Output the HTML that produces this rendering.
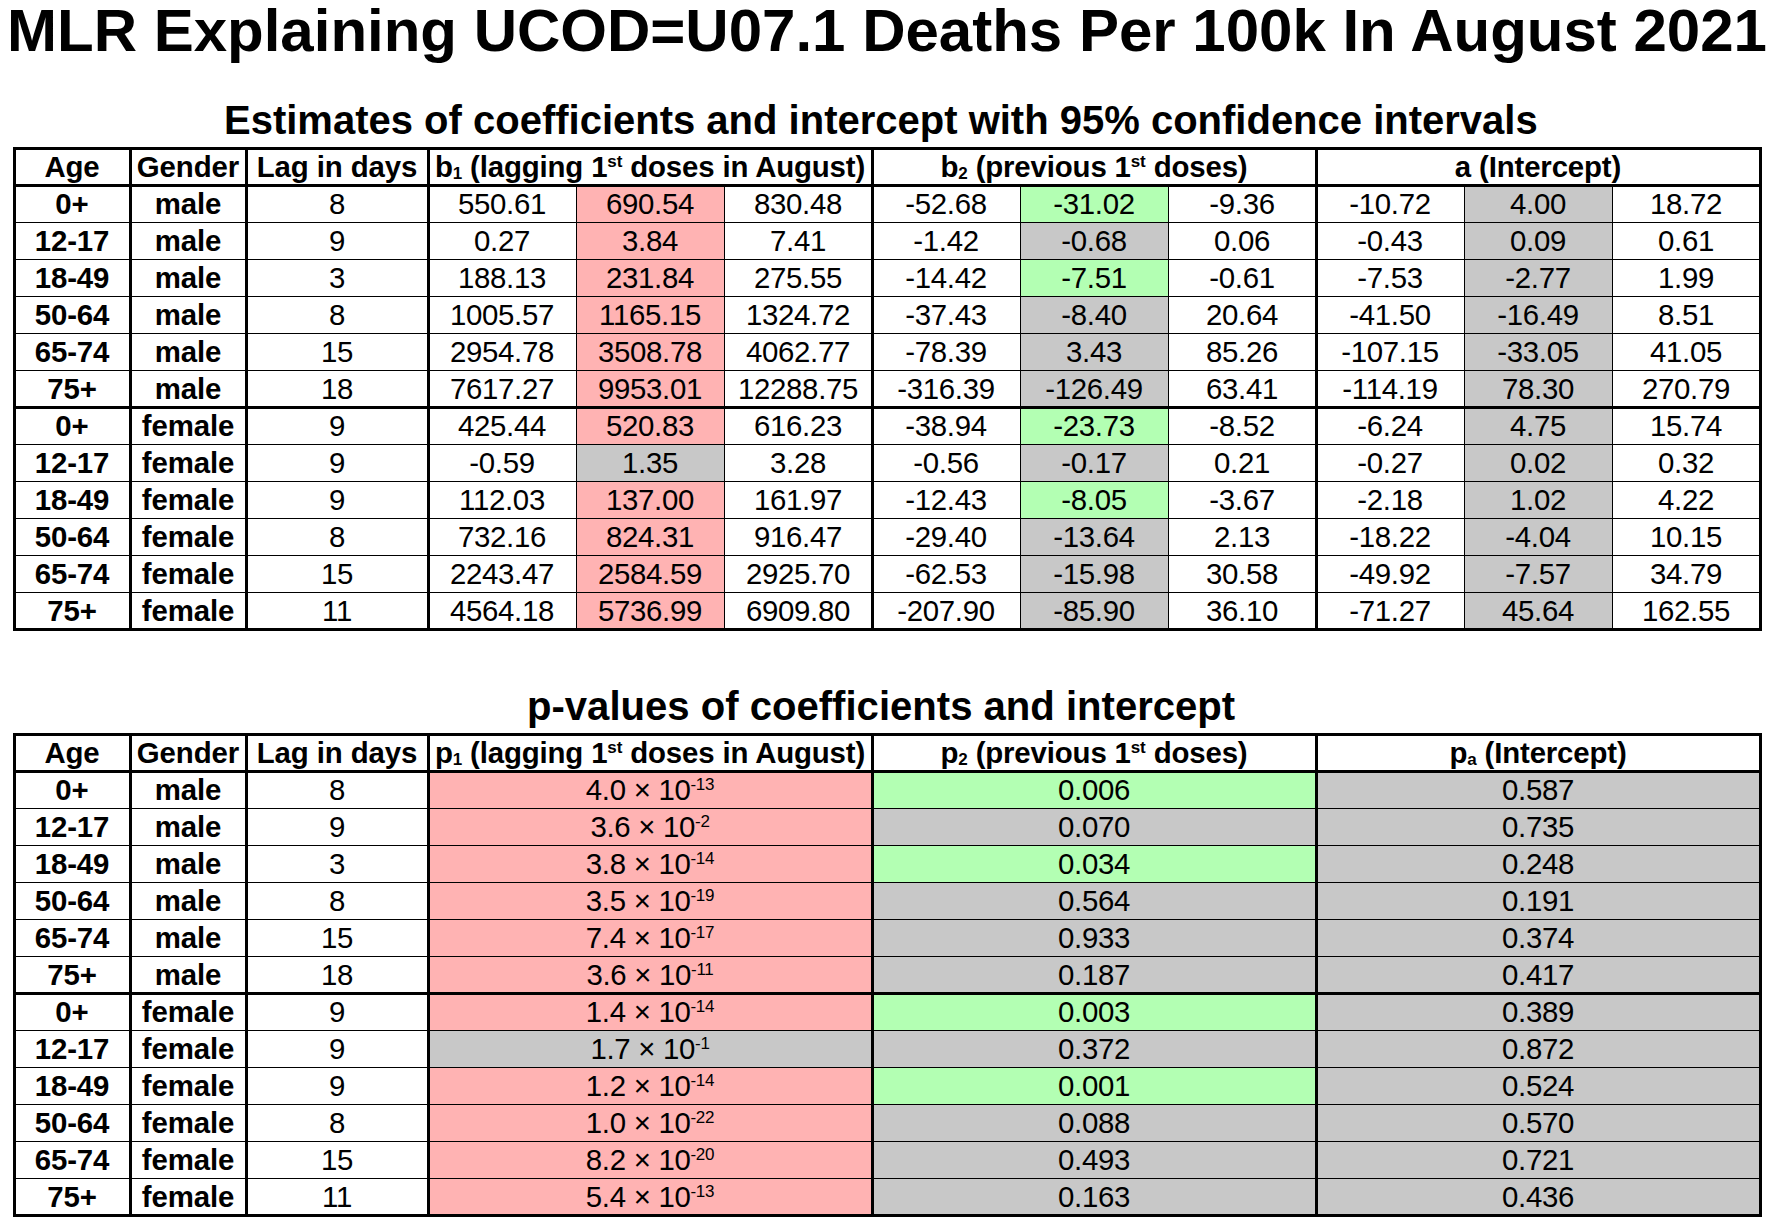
<!DOCTYPE html><html><head><meta charset="utf-8"><style>
html,body{margin:0;padding:0;background:#fff}
body{width:1772px;height:1227px;position:relative;overflow:hidden;font-family:"Liberation Sans",sans-serif;color:#000}
.r{position:absolute}
.t{position:absolute;white-space:nowrap;font-weight:bold}
.h,.d{position:absolute;height:37px;line-height:37px;text-align:center;white-space:nowrap;font-size:29.4px}
.h{font-weight:bold;letter-spacing:-0.1px}
.h.ls0{letter-spacing:-0.15px}
.d{letter-spacing:-0.3px}
.sb{font-size:17px;line-height:0;position:relative;top:2px}
.ss{font-size:17px;line-height:0;position:relative;top:-10px}
.sp{font-size:17px;line-height:0;position:relative;top:-10px}
</style></head><body><div class="t" style="left:7px;top:1px;font-size:60px;line-height:60px">MLR Explaining UCOD=U07.1 Deaths Per 100k In August 2021</div><div class="t" style="left:224px;top:100px;font-size:40px;line-height:40px">Estimates of coefficients and intercept with 95% confidence intervals</div><div class="t" style="left:527px;top:686px;font-size:40.1px;line-height:40px">p-values of coefficients and intercept</div>
<div class="r" style="left:577px;top:186px;width:147px;height:36px;background:#ffb3b3"></div>
<div class="r" style="left:1021px;top:186px;width:147px;height:36px;background:#b3ffb3"></div>
<div class="r" style="left:1465px;top:186px;width:147px;height:36px;background:#c8c8c8"></div>
<div class="r" style="left:577px;top:223px;width:147px;height:36px;background:#ffb3b3"></div>
<div class="r" style="left:1021px;top:223px;width:147px;height:36px;background:#c8c8c8"></div>
<div class="r" style="left:1465px;top:223px;width:147px;height:36px;background:#c8c8c8"></div>
<div class="r" style="left:577px;top:260px;width:147px;height:36px;background:#ffb3b3"></div>
<div class="r" style="left:1021px;top:260px;width:147px;height:36px;background:#b3ffb3"></div>
<div class="r" style="left:1465px;top:260px;width:147px;height:36px;background:#c8c8c8"></div>
<div class="r" style="left:577px;top:297px;width:147px;height:36px;background:#ffb3b3"></div>
<div class="r" style="left:1021px;top:297px;width:147px;height:36px;background:#c8c8c8"></div>
<div class="r" style="left:1465px;top:297px;width:147px;height:36px;background:#c8c8c8"></div>
<div class="r" style="left:577px;top:334px;width:147px;height:36px;background:#ffb3b3"></div>
<div class="r" style="left:1021px;top:334px;width:147px;height:36px;background:#c8c8c8"></div>
<div class="r" style="left:1465px;top:334px;width:147px;height:36px;background:#c8c8c8"></div>
<div class="r" style="left:577px;top:371px;width:147px;height:36px;background:#ffb3b3"></div>
<div class="r" style="left:1021px;top:371px;width:147px;height:36px;background:#c8c8c8"></div>
<div class="r" style="left:1465px;top:371px;width:147px;height:36px;background:#c8c8c8"></div>
<div class="r" style="left:577px;top:408px;width:147px;height:36px;background:#ffb3b3"></div>
<div class="r" style="left:1021px;top:408px;width:147px;height:36px;background:#b3ffb3"></div>
<div class="r" style="left:1465px;top:408px;width:147px;height:36px;background:#c8c8c8"></div>
<div class="r" style="left:577px;top:445px;width:147px;height:36px;background:#c8c8c8"></div>
<div class="r" style="left:1021px;top:445px;width:147px;height:36px;background:#c8c8c8"></div>
<div class="r" style="left:1465px;top:445px;width:147px;height:36px;background:#c8c8c8"></div>
<div class="r" style="left:577px;top:482px;width:147px;height:36px;background:#ffb3b3"></div>
<div class="r" style="left:1021px;top:482px;width:147px;height:36px;background:#b3ffb3"></div>
<div class="r" style="left:1465px;top:482px;width:147px;height:36px;background:#c8c8c8"></div>
<div class="r" style="left:577px;top:519px;width:147px;height:36px;background:#ffb3b3"></div>
<div class="r" style="left:1021px;top:519px;width:147px;height:36px;background:#c8c8c8"></div>
<div class="r" style="left:1465px;top:519px;width:147px;height:36px;background:#c8c8c8"></div>
<div class="r" style="left:577px;top:556px;width:147px;height:36px;background:#ffb3b3"></div>
<div class="r" style="left:1021px;top:556px;width:147px;height:36px;background:#c8c8c8"></div>
<div class="r" style="left:1465px;top:556px;width:147px;height:36px;background:#c8c8c8"></div>
<div class="r" style="left:577px;top:593px;width:147px;height:36px;background:#ffb3b3"></div>
<div class="r" style="left:1021px;top:593px;width:147px;height:36px;background:#c8c8c8"></div>
<div class="r" style="left:1465px;top:593px;width:147px;height:36px;background:#c8c8c8"></div>
<div class="r" style="left:13px;top:147px;width:1749px;height:3px;background:#000"></div>
<div class="r" style="left:13px;top:184px;width:1749px;height:3px;background:#000"></div>
<div class="r" style="left:13px;top:222px;width:1749px;height:1px;background:#000"></div>
<div class="r" style="left:13px;top:259px;width:1749px;height:1px;background:#000"></div>
<div class="r" style="left:13px;top:296px;width:1749px;height:1px;background:#000"></div>
<div class="r" style="left:13px;top:333px;width:1749px;height:1px;background:#000"></div>
<div class="r" style="left:13px;top:370px;width:1749px;height:1px;background:#000"></div>
<div class="r" style="left:13px;top:406px;width:1749px;height:3px;background:#000"></div>
<div class="r" style="left:13px;top:444px;width:1749px;height:1px;background:#000"></div>
<div class="r" style="left:13px;top:481px;width:1749px;height:1px;background:#000"></div>
<div class="r" style="left:13px;top:518px;width:1749px;height:1px;background:#000"></div>
<div class="r" style="left:13px;top:555px;width:1749px;height:1px;background:#000"></div>
<div class="r" style="left:13px;top:592px;width:1749px;height:1px;background:#000"></div>
<div class="r" style="left:13px;top:628px;width:1749px;height:3px;background:#000"></div>
<div class="r" style="left:13px;top:147px;width:3px;height:484px;background:#000"></div>
<div class="r" style="left:129px;top:147px;width:3px;height:484px;background:#000"></div>
<div class="r" style="left:245px;top:147px;width:3px;height:484px;background:#000"></div>
<div class="r" style="left:427px;top:147px;width:3px;height:484px;background:#000"></div>
<div class="r" style="left:576px;top:184px;width:1px;height:447px;background:#000"></div>
<div class="r" style="left:724px;top:184px;width:1px;height:447px;background:#000"></div>
<div class="r" style="left:871px;top:147px;width:3px;height:484px;background:#000"></div>
<div class="r" style="left:1020px;top:184px;width:1px;height:447px;background:#000"></div>
<div class="r" style="left:1168px;top:184px;width:1px;height:447px;background:#000"></div>
<div class="r" style="left:1315px;top:147px;width:3px;height:484px;background:#000"></div>
<div class="r" style="left:1464px;top:184px;width:1px;height:447px;background:#000"></div>
<div class="r" style="left:1612px;top:184px;width:1px;height:447px;background:#000"></div>
<div class="r" style="left:1759px;top:147px;width:3px;height:484px;background:#000"></div>
<div class="h" style="left:14.0px;top:147.5px;width:116.0px">Age</div>
<div class="h" style="left:130.0px;top:147.5px;width:116.0px">Gender</div>
<div class="h" style="left:246.0px;top:147.5px;width:182.0px">Lag in days</div>
<div class="h ls0" style="left:428.0px;top:147.5px;width:444.0px">b<span class="sb">1</span> (lagging 1<span class="ss">st</span> doses in August)</div>
<div class="h ls0" style="left:872.0px;top:147.5px;width:444.0px">b<span class="sb">2</span> (previous 1<span class="ss">st</span> doses)</div>
<div class="h ls0" style="left:1316.0px;top:147.5px;width:444.0px">a (Intercept)</div>
<div class="h" style="left:14.0px;top:184.5px;width:116.0px">0+</div>
<div class="h" style="left:130.0px;top:184.5px;width:116.0px">male</div>
<div class="d" style="left:246.0px;top:184.5px;width:182.0px">8</div>
<div class="d" style="left:428.0px;top:184.5px;width:148.0px">550.61</div>
<div class="d" style="left:576.0px;top:184.5px;width:148.0px">690.54</div>
<div class="d" style="left:724.0px;top:184.5px;width:148.0px">830.48</div>
<div class="d" style="left:872.0px;top:184.5px;width:148.0px">-52.68</div>
<div class="d" style="left:1020.0px;top:184.5px;width:148.0px">-31.02</div>
<div class="d" style="left:1168.0px;top:184.5px;width:148.0px">-9.36</div>
<div class="d" style="left:1316.0px;top:184.5px;width:148.0px">-10.72</div>
<div class="d" style="left:1464.0px;top:184.5px;width:148.0px">4.00</div>
<div class="d" style="left:1612.0px;top:184.5px;width:148.0px">18.72</div>
<div class="h" style="left:14.0px;top:221.5px;width:116.0px">12-17</div>
<div class="h" style="left:130.0px;top:221.5px;width:116.0px">male</div>
<div class="d" style="left:246.0px;top:221.5px;width:182.0px">9</div>
<div class="d" style="left:428.0px;top:221.5px;width:148.0px">0.27</div>
<div class="d" style="left:576.0px;top:221.5px;width:148.0px">3.84</div>
<div class="d" style="left:724.0px;top:221.5px;width:148.0px">7.41</div>
<div class="d" style="left:872.0px;top:221.5px;width:148.0px">-1.42</div>
<div class="d" style="left:1020.0px;top:221.5px;width:148.0px">-0.68</div>
<div class="d" style="left:1168.0px;top:221.5px;width:148.0px">0.06</div>
<div class="d" style="left:1316.0px;top:221.5px;width:148.0px">-0.43</div>
<div class="d" style="left:1464.0px;top:221.5px;width:148.0px">0.09</div>
<div class="d" style="left:1612.0px;top:221.5px;width:148.0px">0.61</div>
<div class="h" style="left:14.0px;top:258.5px;width:116.0px">18-49</div>
<div class="h" style="left:130.0px;top:258.5px;width:116.0px">male</div>
<div class="d" style="left:246.0px;top:258.5px;width:182.0px">3</div>
<div class="d" style="left:428.0px;top:258.5px;width:148.0px">188.13</div>
<div class="d" style="left:576.0px;top:258.5px;width:148.0px">231.84</div>
<div class="d" style="left:724.0px;top:258.5px;width:148.0px">275.55</div>
<div class="d" style="left:872.0px;top:258.5px;width:148.0px">-14.42</div>
<div class="d" style="left:1020.0px;top:258.5px;width:148.0px">-7.51</div>
<div class="d" style="left:1168.0px;top:258.5px;width:148.0px">-0.61</div>
<div class="d" style="left:1316.0px;top:258.5px;width:148.0px">-7.53</div>
<div class="d" style="left:1464.0px;top:258.5px;width:148.0px">-2.77</div>
<div class="d" style="left:1612.0px;top:258.5px;width:148.0px">1.99</div>
<div class="h" style="left:14.0px;top:295.5px;width:116.0px">50-64</div>
<div class="h" style="left:130.0px;top:295.5px;width:116.0px">male</div>
<div class="d" style="left:246.0px;top:295.5px;width:182.0px">8</div>
<div class="d" style="left:428.0px;top:295.5px;width:148.0px">1005.57</div>
<div class="d" style="left:576.0px;top:295.5px;width:148.0px">1165.15</div>
<div class="d" style="left:724.0px;top:295.5px;width:148.0px">1324.72</div>
<div class="d" style="left:872.0px;top:295.5px;width:148.0px">-37.43</div>
<div class="d" style="left:1020.0px;top:295.5px;width:148.0px">-8.40</div>
<div class="d" style="left:1168.0px;top:295.5px;width:148.0px">20.64</div>
<div class="d" style="left:1316.0px;top:295.5px;width:148.0px">-41.50</div>
<div class="d" style="left:1464.0px;top:295.5px;width:148.0px">-16.49</div>
<div class="d" style="left:1612.0px;top:295.5px;width:148.0px">8.51</div>
<div class="h" style="left:14.0px;top:332.5px;width:116.0px">65-74</div>
<div class="h" style="left:130.0px;top:332.5px;width:116.0px">male</div>
<div class="d" style="left:246.0px;top:332.5px;width:182.0px">15</div>
<div class="d" style="left:428.0px;top:332.5px;width:148.0px">2954.78</div>
<div class="d" style="left:576.0px;top:332.5px;width:148.0px">3508.78</div>
<div class="d" style="left:724.0px;top:332.5px;width:148.0px">4062.77</div>
<div class="d" style="left:872.0px;top:332.5px;width:148.0px">-78.39</div>
<div class="d" style="left:1020.0px;top:332.5px;width:148.0px">3.43</div>
<div class="d" style="left:1168.0px;top:332.5px;width:148.0px">85.26</div>
<div class="d" style="left:1316.0px;top:332.5px;width:148.0px">-107.15</div>
<div class="d" style="left:1464.0px;top:332.5px;width:148.0px">-33.05</div>
<div class="d" style="left:1612.0px;top:332.5px;width:148.0px">41.05</div>
<div class="h" style="left:14.0px;top:369.5px;width:116.0px">75+</div>
<div class="h" style="left:130.0px;top:369.5px;width:116.0px">male</div>
<div class="d" style="left:246.0px;top:369.5px;width:182.0px">18</div>
<div class="d" style="left:428.0px;top:369.5px;width:148.0px">7617.27</div>
<div class="d" style="left:576.0px;top:369.5px;width:148.0px">9953.01</div>
<div class="d" style="left:724.0px;top:369.5px;width:148.0px">12288.75</div>
<div class="d" style="left:872.0px;top:369.5px;width:148.0px">-316.39</div>
<div class="d" style="left:1020.0px;top:369.5px;width:148.0px">-126.49</div>
<div class="d" style="left:1168.0px;top:369.5px;width:148.0px">63.41</div>
<div class="d" style="left:1316.0px;top:369.5px;width:148.0px">-114.19</div>
<div class="d" style="left:1464.0px;top:369.5px;width:148.0px">78.30</div>
<div class="d" style="left:1612.0px;top:369.5px;width:148.0px">270.79</div>
<div class="h" style="left:14.0px;top:406.5px;width:116.0px">0+</div>
<div class="h" style="left:130.0px;top:406.5px;width:116.0px">female</div>
<div class="d" style="left:246.0px;top:406.5px;width:182.0px">9</div>
<div class="d" style="left:428.0px;top:406.5px;width:148.0px">425.44</div>
<div class="d" style="left:576.0px;top:406.5px;width:148.0px">520.83</div>
<div class="d" style="left:724.0px;top:406.5px;width:148.0px">616.23</div>
<div class="d" style="left:872.0px;top:406.5px;width:148.0px">-38.94</div>
<div class="d" style="left:1020.0px;top:406.5px;width:148.0px">-23.73</div>
<div class="d" style="left:1168.0px;top:406.5px;width:148.0px">-8.52</div>
<div class="d" style="left:1316.0px;top:406.5px;width:148.0px">-6.24</div>
<div class="d" style="left:1464.0px;top:406.5px;width:148.0px">4.75</div>
<div class="d" style="left:1612.0px;top:406.5px;width:148.0px">15.74</div>
<div class="h" style="left:14.0px;top:443.5px;width:116.0px">12-17</div>
<div class="h" style="left:130.0px;top:443.5px;width:116.0px">female</div>
<div class="d" style="left:246.0px;top:443.5px;width:182.0px">9</div>
<div class="d" style="left:428.0px;top:443.5px;width:148.0px">-0.59</div>
<div class="d" style="left:576.0px;top:443.5px;width:148.0px">1.35</div>
<div class="d" style="left:724.0px;top:443.5px;width:148.0px">3.28</div>
<div class="d" style="left:872.0px;top:443.5px;width:148.0px">-0.56</div>
<div class="d" style="left:1020.0px;top:443.5px;width:148.0px">-0.17</div>
<div class="d" style="left:1168.0px;top:443.5px;width:148.0px">0.21</div>
<div class="d" style="left:1316.0px;top:443.5px;width:148.0px">-0.27</div>
<div class="d" style="left:1464.0px;top:443.5px;width:148.0px">0.02</div>
<div class="d" style="left:1612.0px;top:443.5px;width:148.0px">0.32</div>
<div class="h" style="left:14.0px;top:480.5px;width:116.0px">18-49</div>
<div class="h" style="left:130.0px;top:480.5px;width:116.0px">female</div>
<div class="d" style="left:246.0px;top:480.5px;width:182.0px">9</div>
<div class="d" style="left:428.0px;top:480.5px;width:148.0px">112.03</div>
<div class="d" style="left:576.0px;top:480.5px;width:148.0px">137.00</div>
<div class="d" style="left:724.0px;top:480.5px;width:148.0px">161.97</div>
<div class="d" style="left:872.0px;top:480.5px;width:148.0px">-12.43</div>
<div class="d" style="left:1020.0px;top:480.5px;width:148.0px">-8.05</div>
<div class="d" style="left:1168.0px;top:480.5px;width:148.0px">-3.67</div>
<div class="d" style="left:1316.0px;top:480.5px;width:148.0px">-2.18</div>
<div class="d" style="left:1464.0px;top:480.5px;width:148.0px">1.02</div>
<div class="d" style="left:1612.0px;top:480.5px;width:148.0px">4.22</div>
<div class="h" style="left:14.0px;top:517.5px;width:116.0px">50-64</div>
<div class="h" style="left:130.0px;top:517.5px;width:116.0px">female</div>
<div class="d" style="left:246.0px;top:517.5px;width:182.0px">8</div>
<div class="d" style="left:428.0px;top:517.5px;width:148.0px">732.16</div>
<div class="d" style="left:576.0px;top:517.5px;width:148.0px">824.31</div>
<div class="d" style="left:724.0px;top:517.5px;width:148.0px">916.47</div>
<div class="d" style="left:872.0px;top:517.5px;width:148.0px">-29.40</div>
<div class="d" style="left:1020.0px;top:517.5px;width:148.0px">-13.64</div>
<div class="d" style="left:1168.0px;top:517.5px;width:148.0px">2.13</div>
<div class="d" style="left:1316.0px;top:517.5px;width:148.0px">-18.22</div>
<div class="d" style="left:1464.0px;top:517.5px;width:148.0px">-4.04</div>
<div class="d" style="left:1612.0px;top:517.5px;width:148.0px">10.15</div>
<div class="h" style="left:14.0px;top:554.5px;width:116.0px">65-74</div>
<div class="h" style="left:130.0px;top:554.5px;width:116.0px">female</div>
<div class="d" style="left:246.0px;top:554.5px;width:182.0px">15</div>
<div class="d" style="left:428.0px;top:554.5px;width:148.0px">2243.47</div>
<div class="d" style="left:576.0px;top:554.5px;width:148.0px">2584.59</div>
<div class="d" style="left:724.0px;top:554.5px;width:148.0px">2925.70</div>
<div class="d" style="left:872.0px;top:554.5px;width:148.0px">-62.53</div>
<div class="d" style="left:1020.0px;top:554.5px;width:148.0px">-15.98</div>
<div class="d" style="left:1168.0px;top:554.5px;width:148.0px">30.58</div>
<div class="d" style="left:1316.0px;top:554.5px;width:148.0px">-49.92</div>
<div class="d" style="left:1464.0px;top:554.5px;width:148.0px">-7.57</div>
<div class="d" style="left:1612.0px;top:554.5px;width:148.0px">34.79</div>
<div class="h" style="left:14.0px;top:591.5px;width:116.0px">75+</div>
<div class="h" style="left:130.0px;top:591.5px;width:116.0px">female</div>
<div class="d" style="left:246.0px;top:591.5px;width:182.0px">11</div>
<div class="d" style="left:428.0px;top:591.5px;width:148.0px">4564.18</div>
<div class="d" style="left:576.0px;top:591.5px;width:148.0px">5736.99</div>
<div class="d" style="left:724.0px;top:591.5px;width:148.0px">6909.80</div>
<div class="d" style="left:872.0px;top:591.5px;width:148.0px">-207.90</div>
<div class="d" style="left:1020.0px;top:591.5px;width:148.0px">-85.90</div>
<div class="d" style="left:1168.0px;top:591.5px;width:148.0px">36.10</div>
<div class="d" style="left:1316.0px;top:591.5px;width:148.0px">-71.27</div>
<div class="d" style="left:1464.0px;top:591.5px;width:148.0px">45.64</div>
<div class="d" style="left:1612.0px;top:591.5px;width:148.0px">162.55</div>
<div class="r" style="left:430px;top:772px;width:441px;height:36px;background:#ffb3b3"></div>
<div class="r" style="left:874px;top:772px;width:441px;height:36px;background:#b3ffb3"></div>
<div class="r" style="left:1318px;top:772px;width:441px;height:36px;background:#c8c8c8"></div>
<div class="r" style="left:430px;top:809px;width:441px;height:36px;background:#ffb3b3"></div>
<div class="r" style="left:874px;top:809px;width:441px;height:36px;background:#c8c8c8"></div>
<div class="r" style="left:1318px;top:809px;width:441px;height:36px;background:#c8c8c8"></div>
<div class="r" style="left:430px;top:846px;width:441px;height:36px;background:#ffb3b3"></div>
<div class="r" style="left:874px;top:846px;width:441px;height:36px;background:#b3ffb3"></div>
<div class="r" style="left:1318px;top:846px;width:441px;height:36px;background:#c8c8c8"></div>
<div class="r" style="left:430px;top:883px;width:441px;height:36px;background:#ffb3b3"></div>
<div class="r" style="left:874px;top:883px;width:441px;height:36px;background:#c8c8c8"></div>
<div class="r" style="left:1318px;top:883px;width:441px;height:36px;background:#c8c8c8"></div>
<div class="r" style="left:430px;top:920px;width:441px;height:36px;background:#ffb3b3"></div>
<div class="r" style="left:874px;top:920px;width:441px;height:36px;background:#c8c8c8"></div>
<div class="r" style="left:1318px;top:920px;width:441px;height:36px;background:#c8c8c8"></div>
<div class="r" style="left:430px;top:957px;width:441px;height:36px;background:#ffb3b3"></div>
<div class="r" style="left:874px;top:957px;width:441px;height:36px;background:#c8c8c8"></div>
<div class="r" style="left:1318px;top:957px;width:441px;height:36px;background:#c8c8c8"></div>
<div class="r" style="left:430px;top:994px;width:441px;height:36px;background:#ffb3b3"></div>
<div class="r" style="left:874px;top:994px;width:441px;height:36px;background:#b3ffb3"></div>
<div class="r" style="left:1318px;top:994px;width:441px;height:36px;background:#c8c8c8"></div>
<div class="r" style="left:430px;top:1031px;width:441px;height:36px;background:#c8c8c8"></div>
<div class="r" style="left:874px;top:1031px;width:441px;height:36px;background:#c8c8c8"></div>
<div class="r" style="left:1318px;top:1031px;width:441px;height:36px;background:#c8c8c8"></div>
<div class="r" style="left:430px;top:1068px;width:441px;height:36px;background:#ffb3b3"></div>
<div class="r" style="left:874px;top:1068px;width:441px;height:36px;background:#b3ffb3"></div>
<div class="r" style="left:1318px;top:1068px;width:441px;height:36px;background:#c8c8c8"></div>
<div class="r" style="left:430px;top:1105px;width:441px;height:36px;background:#ffb3b3"></div>
<div class="r" style="left:874px;top:1105px;width:441px;height:36px;background:#c8c8c8"></div>
<div class="r" style="left:1318px;top:1105px;width:441px;height:36px;background:#c8c8c8"></div>
<div class="r" style="left:430px;top:1142px;width:441px;height:36px;background:#ffb3b3"></div>
<div class="r" style="left:874px;top:1142px;width:441px;height:36px;background:#c8c8c8"></div>
<div class="r" style="left:1318px;top:1142px;width:441px;height:36px;background:#c8c8c8"></div>
<div class="r" style="left:430px;top:1179px;width:441px;height:36px;background:#ffb3b3"></div>
<div class="r" style="left:874px;top:1179px;width:441px;height:36px;background:#c8c8c8"></div>
<div class="r" style="left:1318px;top:1179px;width:441px;height:36px;background:#c8c8c8"></div>
<div class="r" style="left:13px;top:733px;width:1749px;height:3px;background:#000"></div>
<div class="r" style="left:13px;top:770px;width:1749px;height:3px;background:#000"></div>
<div class="r" style="left:13px;top:808px;width:1749px;height:1px;background:#000"></div>
<div class="r" style="left:13px;top:845px;width:1749px;height:1px;background:#000"></div>
<div class="r" style="left:13px;top:882px;width:1749px;height:1px;background:#000"></div>
<div class="r" style="left:13px;top:919px;width:1749px;height:1px;background:#000"></div>
<div class="r" style="left:13px;top:956px;width:1749px;height:1px;background:#000"></div>
<div class="r" style="left:13px;top:992px;width:1749px;height:3px;background:#000"></div>
<div class="r" style="left:13px;top:1030px;width:1749px;height:1px;background:#000"></div>
<div class="r" style="left:13px;top:1067px;width:1749px;height:1px;background:#000"></div>
<div class="r" style="left:13px;top:1104px;width:1749px;height:1px;background:#000"></div>
<div class="r" style="left:13px;top:1141px;width:1749px;height:1px;background:#000"></div>
<div class="r" style="left:13px;top:1178px;width:1749px;height:1px;background:#000"></div>
<div class="r" style="left:13px;top:1214px;width:1749px;height:3px;background:#000"></div>
<div class="r" style="left:13px;top:733px;width:3px;height:484px;background:#000"></div>
<div class="r" style="left:129px;top:733px;width:3px;height:484px;background:#000"></div>
<div class="r" style="left:245px;top:733px;width:3px;height:484px;background:#000"></div>
<div class="r" style="left:427px;top:733px;width:3px;height:484px;background:#000"></div>
<div class="r" style="left:871px;top:733px;width:3px;height:484px;background:#000"></div>
<div class="r" style="left:1315px;top:733px;width:3px;height:484px;background:#000"></div>
<div class="r" style="left:1759px;top:733px;width:3px;height:484px;background:#000"></div>
<div class="h" style="left:14.0px;top:733.5px;width:116.0px">Age</div>
<div class="h" style="left:130.0px;top:733.5px;width:116.0px">Gender</div>
<div class="h" style="left:246.0px;top:733.5px;width:182.0px">Lag in days</div>
<div class="h ls0" style="left:428.0px;top:733.5px;width:444.0px">p<span class="sb">1</span> (lagging 1<span class="ss">st</span> doses in August)</div>
<div class="h ls0" style="left:872.0px;top:733.5px;width:444.0px">p<span class="sb">2</span> (previous 1<span class="ss">st</span> doses)</div>
<div class="h ls0" style="left:1316.0px;top:733.5px;width:444.0px">p<span class="sb">a</span> (Intercept)</div>
<div class="h" style="left:14.0px;top:770.5px;width:116.0px">0+</div>
<div class="h" style="left:130.0px;top:770.5px;width:116.0px">male</div>
<div class="d" style="left:246.0px;top:770.5px;width:182.0px">8</div>
<div class="d" style="left:428.0px;top:770.5px;width:444.0px">4.0 × 10<span class="sp">-13</span></div>
<div class="d" style="left:872.0px;top:770.5px;width:444.0px">0.006</div>
<div class="d" style="left:1316.0px;top:770.5px;width:444.0px">0.587</div>
<div class="h" style="left:14.0px;top:807.5px;width:116.0px">12-17</div>
<div class="h" style="left:130.0px;top:807.5px;width:116.0px">male</div>
<div class="d" style="left:246.0px;top:807.5px;width:182.0px">9</div>
<div class="d" style="left:428.0px;top:807.5px;width:444.0px">3.6 × 10<span class="sp">-2</span></div>
<div class="d" style="left:872.0px;top:807.5px;width:444.0px">0.070</div>
<div class="d" style="left:1316.0px;top:807.5px;width:444.0px">0.735</div>
<div class="h" style="left:14.0px;top:844.5px;width:116.0px">18-49</div>
<div class="h" style="left:130.0px;top:844.5px;width:116.0px">male</div>
<div class="d" style="left:246.0px;top:844.5px;width:182.0px">3</div>
<div class="d" style="left:428.0px;top:844.5px;width:444.0px">3.8 × 10<span class="sp">-14</span></div>
<div class="d" style="left:872.0px;top:844.5px;width:444.0px">0.034</div>
<div class="d" style="left:1316.0px;top:844.5px;width:444.0px">0.248</div>
<div class="h" style="left:14.0px;top:881.5px;width:116.0px">50-64</div>
<div class="h" style="left:130.0px;top:881.5px;width:116.0px">male</div>
<div class="d" style="left:246.0px;top:881.5px;width:182.0px">8</div>
<div class="d" style="left:428.0px;top:881.5px;width:444.0px">3.5 × 10<span class="sp">-19</span></div>
<div class="d" style="left:872.0px;top:881.5px;width:444.0px">0.564</div>
<div class="d" style="left:1316.0px;top:881.5px;width:444.0px">0.191</div>
<div class="h" style="left:14.0px;top:918.5px;width:116.0px">65-74</div>
<div class="h" style="left:130.0px;top:918.5px;width:116.0px">male</div>
<div class="d" style="left:246.0px;top:918.5px;width:182.0px">15</div>
<div class="d" style="left:428.0px;top:918.5px;width:444.0px">7.4 × 10<span class="sp">-17</span></div>
<div class="d" style="left:872.0px;top:918.5px;width:444.0px">0.933</div>
<div class="d" style="left:1316.0px;top:918.5px;width:444.0px">0.374</div>
<div class="h" style="left:14.0px;top:955.5px;width:116.0px">75+</div>
<div class="h" style="left:130.0px;top:955.5px;width:116.0px">male</div>
<div class="d" style="left:246.0px;top:955.5px;width:182.0px">18</div>
<div class="d" style="left:428.0px;top:955.5px;width:444.0px">3.6 × 10<span class="sp">-11</span></div>
<div class="d" style="left:872.0px;top:955.5px;width:444.0px">0.187</div>
<div class="d" style="left:1316.0px;top:955.5px;width:444.0px">0.417</div>
<div class="h" style="left:14.0px;top:992.5px;width:116.0px">0+</div>
<div class="h" style="left:130.0px;top:992.5px;width:116.0px">female</div>
<div class="d" style="left:246.0px;top:992.5px;width:182.0px">9</div>
<div class="d" style="left:428.0px;top:992.5px;width:444.0px">1.4 × 10<span class="sp">-14</span></div>
<div class="d" style="left:872.0px;top:992.5px;width:444.0px">0.003</div>
<div class="d" style="left:1316.0px;top:992.5px;width:444.0px">0.389</div>
<div class="h" style="left:14.0px;top:1029.5px;width:116.0px">12-17</div>
<div class="h" style="left:130.0px;top:1029.5px;width:116.0px">female</div>
<div class="d" style="left:246.0px;top:1029.5px;width:182.0px">9</div>
<div class="d" style="left:428.0px;top:1029.5px;width:444.0px">1.7 × 10<span class="sp">-1</span></div>
<div class="d" style="left:872.0px;top:1029.5px;width:444.0px">0.372</div>
<div class="d" style="left:1316.0px;top:1029.5px;width:444.0px">0.872</div>
<div class="h" style="left:14.0px;top:1066.5px;width:116.0px">18-49</div>
<div class="h" style="left:130.0px;top:1066.5px;width:116.0px">female</div>
<div class="d" style="left:246.0px;top:1066.5px;width:182.0px">9</div>
<div class="d" style="left:428.0px;top:1066.5px;width:444.0px">1.2 × 10<span class="sp">-14</span></div>
<div class="d" style="left:872.0px;top:1066.5px;width:444.0px">0.001</div>
<div class="d" style="left:1316.0px;top:1066.5px;width:444.0px">0.524</div>
<div class="h" style="left:14.0px;top:1103.5px;width:116.0px">50-64</div>
<div class="h" style="left:130.0px;top:1103.5px;width:116.0px">female</div>
<div class="d" style="left:246.0px;top:1103.5px;width:182.0px">8</div>
<div class="d" style="left:428.0px;top:1103.5px;width:444.0px">1.0 × 10<span class="sp">-22</span></div>
<div class="d" style="left:872.0px;top:1103.5px;width:444.0px">0.088</div>
<div class="d" style="left:1316.0px;top:1103.5px;width:444.0px">0.570</div>
<div class="h" style="left:14.0px;top:1140.5px;width:116.0px">65-74</div>
<div class="h" style="left:130.0px;top:1140.5px;width:116.0px">female</div>
<div class="d" style="left:246.0px;top:1140.5px;width:182.0px">15</div>
<div class="d" style="left:428.0px;top:1140.5px;width:444.0px">8.2 × 10<span class="sp">-20</span></div>
<div class="d" style="left:872.0px;top:1140.5px;width:444.0px">0.493</div>
<div class="d" style="left:1316.0px;top:1140.5px;width:444.0px">0.721</div>
<div class="h" style="left:14.0px;top:1177.5px;width:116.0px">75+</div>
<div class="h" style="left:130.0px;top:1177.5px;width:116.0px">female</div>
<div class="d" style="left:246.0px;top:1177.5px;width:182.0px">11</div>
<div class="d" style="left:428.0px;top:1177.5px;width:444.0px">5.4 × 10<span class="sp">-13</span></div>
<div class="d" style="left:872.0px;top:1177.5px;width:444.0px">0.163</div>
<div class="d" style="left:1316.0px;top:1177.5px;width:444.0px">0.436</div>
</body></html>
